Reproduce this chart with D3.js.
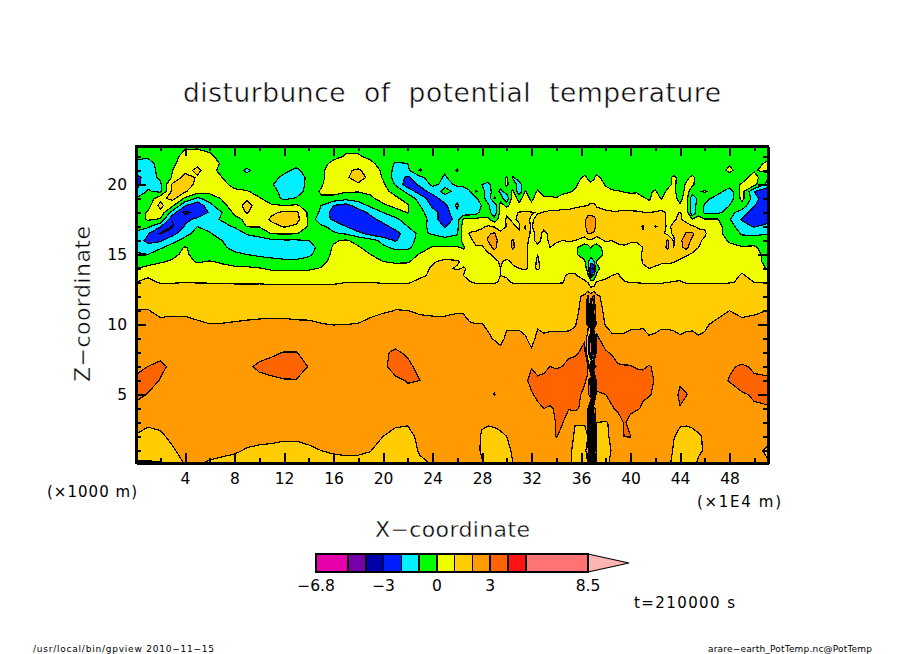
<!DOCTYPE html>
<html>
<head>
<meta charset="utf-8">
<script src="https://cdn.jsdelivr.net/npm/d3@7"></script>
<style>
body { margin: 0; background: #ffffff; }
text { font-family: "DejaVu Sans"; fill: #000000; }
.ax path, .ax line { stroke: #000000; stroke-width: 2; shape-rendering: crispEdges; }
</style>
</head>
<body>
<svg id="chart" width="904" height="654"></svg>
<script>

var xCoord = [0,1,2,3,4,5,6,7,8,9,10,11,12,13,14,15,16,17,18,19,20,21,22,23,24,25,26,
	26.5,27,27.5,28,28.5,29,29.5,30,30.5,31,
	31.5,32,32.5,33,33.5,34,34.5,35,35.5,36.3,
	36.55,36.8,37.05,37.25,38,38.5,39,39.5,40,40.5,
	41,41.5,42,42.5,43,43.5,44,44.5,45,45.5,
	46,47,48,49,50,51];

var zCoord = [22.75,22,21.5,21,20.5,20,19.5,19,18.5,18,17.5,17,16.5,16,15.5,15,14.5,14,13.5,13,12.5,12,11,10,9,8,7,6,5,4,3,2,1,0.1];

var levels = [-6.8,-5,-4,-3,-2,-1,0,1,2,3,4,5,8.5];
var levelColors = ["#e600aa","#7800aa","#0000aa","#001eff","#00f0ff","#00ff00","#f0ff00","#ffcd00","#ff9b00","#ff6400","#ff1414","#ff7373","#ffb4b4"];
var xTicks = [4,8,12,16,20,24,28,32,36,40,44,48];
var xMinor = [2,6,10,14,18,22,26,30,34,38,42,46,50];
var zTicks = [5,10,15,20];
var zMinor = [1,2,3,4,6,7,8,9,11,12,13,14,16,17,18,19,21,22];
var legendTicks = [[-6.8,"\u22126.8"],[-3,"\u22123"],[0,"0"],[3,"3"],[8.5,"8.5"]];

// x 0..26
var thetaLeft = [
[-.5,-.5,-.5,-.5,-.2,-.2,-.5,-.5,-.5,-.5,-.5,-.5,-.5,-.5,-.5,-.5,-.5,-.3,-.3,-.5,-.5,-.5,-.5,-.5,-.5,-.5,-.5],
[-.7,-.9,-.6,-.4,.4,.5,.3,-.5,-.6,-.6,-.6,-.6,-.6,-.6,-.6,-.6,-.3,.1,.1,-.2,-.5,-.6,-.6,-.6,-.6,-.6,-.6],
[-1.3,-1.3,-.7,-.2,.5,.8,.7,-.2,-.7,-.8,-.7,-.7,-.8,-.7,-.6,-.4,.3,.7,.7,.2,-.4,-1.1,-1,-.3,-.7,-.4,-.4],
[-1.6,-1.5,-.7,0,.7,1.2,.5,-.4,-.7,-1.1,-.7,-.7,-.8,-1.2,-.6,-.2,.5,.9,1.1,.7,-.2,-1.3,-1.2,.1,-.7,-.9,.1],
[-2.4,-1.5,-.8,.1,1.4,.9,.5,0,-.4,-.8,-.7,-.7,-1.2,-1.7,-.7,-.2,.5,.9,1.3,.8,-.1,-1.4,-2.2,-1.2,-.6,-1.1,-.5],
[-2.5,-1.2,-1.2,1.2,1.4,.8,.4,.3,-.3,-.6,-.7,-.9,-1.6,-1.8,-.6,-.1,.6,.8,.9,.6,.2,-1.1,-2.6,-1.8,-.8,-1.2,-.9],
[-1.9,-.9,-1.2,1.3,1.1,.4,.3,.3,.2,.1,-.4,-.6,-1.4,-1.6,-.5,.1,.4,.1,.05,.2,.3,-.3,-1.3,-2.5,-1.6,-.7,-1.3],
[-1,-.7,.7,1.3,-.2,-1.2,-.6,.1,.4,.9,.1,-.5,-1.2,-.9,-.1,-.1,-.4,-.7,-.6,-.2,.4,.2,-.4,-1.4,-2.6,-1.4,-1.3],
[-.6,-.4,1.3,.2,-1.9,-2.8,-1.3,-.3,.5,1.3,.6,.1,0,.1,-.3,-1,-2,-2.4,-1.5,-.8,-.2,.3,.1,-1,-2.2,-2.3,-.8],
[-.4,.1,.7,-1.5,-3.3,-2.6,-1.9,-1,.2,1.1,.4,.8,1.2,1.2,-.2,-1.2,-2.4,-2.9,-2.6,-1.7,-1,-.5,.05,-.7,-1.6,-2.5,-1.2],
[-.4,.1,-.1,-2.9,-2.2,-1.8,-1.3,-.9,-.3,.2,.3,1.2,1.6,1.4,-.2,-1.7,-2.1,-3,-2.8,-2.4,-1.6,-1.2,-.6,-.6,-1.3,-2.9,-1.4],
[-.8,-.8,-1.9,-3.1,-1.9,-1,-1.4,-1.3,-.9,.05,.05,.6,1.1,.8,-.1,-.8,-1.3,-2,-2.8,-2.9,-2.4,-1.6,-1,-.8,-1.2,-2.1,-1.3],
[-1.1,-1.9,-3.1,-2.4,-1.2,-.8,-.9,-1.6,-1.6,-.9,-.6,.05,.1,.05,-.3,-.6,-.9,-1.1,-1.7,-2.4,-2.8,-2.4,-1.4,-.8,-1.1,-1.5,-1.1],
[-1.3,-2.3,-2.2,-1.2,-.8,-.6,-.7,-1,-1.5,-1.5,-1.4,-1.2,-1.1,-1.1,-1,-.6,-.1,.1,-.3,-.6,-1.3,-2.1,-1.5,-.6,-.5,-.6,-.6],
[-1.2,-1.6,-1.1,-.7,.1,-.5,-.6,-.8,-1.3,-1.6,-1.7,-1.7,-1.7,-1.7,-1.5,-.6,.1,.4,.1,-.4,-.8,-1.2,-1.2,-.5,.1,.1,.1],
[-.9,-1,-.6,-.2,.2,-.4,-.5,-.6,-.8,-1,-1.2,-1.4,-1.6,-1.7,-1.2,-.5,.2,.5,.4,0,-.5,-.6,-.5,.1,.5,.5,.5],
[-.4,-.3,-.1,.1,.3,-.1,.05,-.1,-.2,-.3,-.5,-.6,-.7,-.7,-.6,-.3,.3,.6,.5,.2,0,-.1,-.1,.4,.9,1.2,1.1],
[0,.2,.4,.6,.6,.4,.3,.2,.1,.1,.05,-.1,-.1,-.1,-.1,.05,.5,.7,.7,.6,.4,.3,.4,.7,1.1,1.2,.9],
[.5,.9,.9,.8,.8,.7,.6,.5,.4,.4,.3,.3,.3,.3,.3,.4,.6,.7,.8,.8,.7,.6,.7,.8,1.2,1.3,1.4],
[1,1.2,.95,.95,1,.97,.96,.95,.9,.9,.9,.85,.85,.85,.8,.85,.85,1,1,1,.95,.95,.9,1.3,1.4,1.4,1.4],
[1.4,1.4,1.4,1.4,1.4,1.4,1.4,1.4,1.4,1.4,1.4,1.4,1.4,1.4,1.4,1.4,1.4,1.4,1.4,1.4,1.4,1.4,1.4,1.4,1.4,1.4,1.4],
[1.7,1.7,1.7,1.7,1.7,1.7,1.7,1.7,1.7,1.7,1.7,1.7,1.7,1.7,1.7,1.7,1.7,1.7,1.7,1.7,1.7,1.7,1.7,1.7,1.7,1.7,1.7],
[2.03,2.03,1.8,1.8,1.8,1.8,1.8,1.8,1.8,1.8,1.8,1.8,1.8,1.8,1.8,1.8,1.8,1.8,1.8,1.8,1.8,2.02,2,1.8,1.8,1.8,1.8],
[2.3,2.3,2.2,2.3,2.3,2.09,2.01,2.02,2.05,2.09,2.13,2.16,2.16,2.1,2.09,2.02,1.99,2,2.02,2.2,2.8,2.5,2.4,2.47,2.3,2.3,2.8],
[2.4,2.4,2.4,2.4,2.4,2.4,2.4,2.4,2.4,2.4,2.4,2.4,2.5,2.5,2.4,2.4,2.3,2.3,2.4,2.4,2.6,2.7,2.6,2.4,2.4,2.4,2.6],
[2.6,2.7,2.7,2.6,2.5,2.5,2.5,2.6,2.6,2.7,2.8,2.9,3.02,3.02,2.8,2.6,2.5,2.5,2.6,2.7,2.9,3.1,2.9,2.6,2.5,2.5,2.5],
[2.7,3,3.2,2.8,2.6,2.6,2.6,2.7,2.8,2.9,3.1,3.2,3.4,3.5,2.95,2.7,2.6,2.6,2.7,2.8,2.85,3.3,3.15,2.8,2.6,2.6,2.6],
[3.2,3.4,2.95,2.7,2.6,2.6,2.6,2.7,2.7,2.8,2.85,2.9,2.95,2.95,2.85,2.7,2.6,2.6,2.7,2.75,2.8,2.85,3.05,3,2.7,2.6,2.6],
[3.3,2.95,2.7,2.6,2.5,2.5,2.5,2.6,2.6,2.6,2.6,2.6,2.6,2.6,2.6,2.6,2.5,2.5,2.6,2.6,2.6,2.7,2.8,2.95,2.7,2.5,2.5],
[2.7,2.6,2.4,2.4,2.4,2.4,2.4,2.4,2.4,2.4,2.4,2.4,2.4,2.4,2.4,2.4,2.4,2.4,2.4,2.4,2.4,2.4,2.5,2.5,2.4,2.4,2.4],
[2.3,2.1,2.2,2.3,2.3,2.3,2.3,2.3,2.3,2.3,2.3,2.3,2.3,2.3,2.3,2.3,2.3,2.3,2.3,2.3,2.3,2.12,2.08,2.3,2.3,2.3,2.3],
[1.95,1.8,1.85,2.2,2.4,2.4,2.3,2.3,2.3,2.2,2.15,2.15,2.1,2.1,2.15,2.3,2.3,2.3,2.3,2.3,2,1.8,1.75,2.2,2.4,2.4,2.4],
[1.5,1.5,1.6,1.9,2.3,2.3,2.15,2.1,2.08,1.95,1.9,1.85,1.8,1.8,1.9,2,2.08,2.1,2.09,2.02,1.7,1.6,1.6,2.1,2.3,2.3,2.3],
[.9,.9,.9,1.6,2.05,2.05,1.95,1.9,1.8,1.7,1.6,1.6,1.6,1.6,1.6,1.7,1.8,1.85,1.85,1.8,1.6,1.5,1.5,1.85,2.05,2.05,2.05]
];

// x 26.5..51
var thetaRight = [
[-.5,-.5,-.5,-.5,-.5,-.5,-.5,-.5,-.5,-.5, -.5,-.5,-.5,-.5,-.5,-.5,-.5,-.5,-.5,-.5, -.5,-.5,-.5,-.5,-.5,-.5,-.5,-.5,-.5,-.5, -.5,-.5,-.5,-.5,-.5,-.5,-.5,-.5,-.5,-.5, -.5,-.5,-.5,-.5,-.5,-.5],
[-.5,-.5,-.5,-.5,-.5,-.5,-.5,-.5,-.5,-.5, -.5,-.5,-.5,-.5,-.5,-.5,-.5,-.5,-.5,-.5, -.5,-.5,-.5,-.5,-.5,-.5,-.5,-.5,-.5,-.5, -.5,-.5,-.5,-.5,-.5,-.5,-.5,-.5,-.5,-.5, -.5,-.5,-.5,-.5,-.5,-.5],
[-.5,-.5,-.5,-.5,-.5,-.5,-.5,-.5,-.5,-.5, -.5,-.5,-.5,-.5,-.5,-.5,-.5,-.5,-.5,-.5, -.5,-.5,-.5,-.5,-.5,-.5,-.5,-.5,-.5,-.5, -.5,-.5,-.5,-.5,-.5,-.5,-.5,-.5,-.5,-.5, -.5,-.5,-.1,-.5,-.5,.2],
[-.5,-.5,-.5,-.5,-.5,-.5,-.5,-.5,-.5,-.5, -.5,-.5,-.5,-.5,-.5,-.5,-.5,-.5,-.5,-.5, -.5,-.5,-.5,-.5,-.5,-.5,-.5,-.5,-.5,-.5, -.5,-.5,-.5,-.5,-.5,-.5,-.5,-.5,-.5,-.5, -.5,-.5,.2,-.5,-.1,.3],
[-.5,-.5,-.5,-.7,-.6,-.4,-.3,.05,-1.1,-.6, -.5,-.4,-.4,-.4,-.4,-.4,-.4,-.4,-.4,.2, -.1,-.2,-.1,.3,-.4,-.5,-.5,-.5,-.5,-.5, -.5,-.5,-.5,-.5,-.3,.2,-.3,-.2,.2,-.4, -.5,-.5,-.5,-.4,.4,-.8],
[-.6,-.5,-.5,-1,-1.2,-.5,-.7,.2,-.6,-1.3, -.5,-.3,-.4,-.4,-.3,-.3,-.3,-.3,-.2,.5, .3,.1,.3,.6,-.1,-.3,-.4,-.4,-.4,-.4, -.5,-.5,-.4,-.4,-.3,.2,-.4,.1,.1,-.3, -.5,-.5,-.5,.1,.3,-1.2],
[-1.8,-1.1,.1,-.5,-1.7,-.3,-1.2,-.6,.2,-1.7, .05,-.4,.1,-.3,-.3,-.3,-.2,-.1,.1,.7, .7,.6,.7,.8,.3,.1,.05,-.05,-.1,-.05, -.3,-.1,.1,-.4,.2,.2,-.5,.3,-.4,-.1, .1,-.5,-1.6,.4,-2,-2.8],
[-1.9,-1.8,-1.2,-.5,-1.6,.1,-.5,-1.7,.5,-.3, .4,-.2,.4,.1,.15,.05,.3,.5,.6,.8, .8,.8,.8,.9,.4,.3,.3,.4,.3,.2, .1,-.1,.3,-.05,.5,.3,-.3,.5,-1.8,-.6, -.6,-1.5,-1.7,.3,-1.5,-2.9],
[-1.9,-1.9,-1.8,-.9,-.8,-1.8,.5,-.3,.6,.2, .7,.2,.8,.6,.75,.7,.8,.8,.9,.95, 1,1.1,1.1,.95,.9,.8,.8,.8,.7,.6, .5,.3,.6,.5,.7,.5,.1,.6,-1.9,-.3, -1.1,-1.5,-1,-.4,-1.9,-3],
[-1.7,-1.7,-1.5,-.5,-.6,-1.7,.4,.9,.8,1.05, 1.05,1.05,.95,1.03,1.1,1.1,1.15,1.15,1.2,1.6, 1.8,1.7,1.6,1.2,1.05,1.05,1.05,1.1,1.1,1.1, 1.03,1,1.05,1.2,.9,.8,1.05,.7,-1.9,-.3, -1.2,-1.2,-.7,-1.4,-2.6,-3],
[.15,.3,.3,.2,.2,-.6,.5,1.1,.9,1.1, 1.2,.9,1.2,1.3,1.2,1.2,1.3,1.3,1.4,1.9, 2.2,2.4,2.3,1.9,1.3,1.2,1.2,1.2,1.2,1.2, 1.2,1.1,1.3,1.3,.8,.9,1.2,.6,.05,.3, .1,.1,-.9,-2.1,-2.9,-2.8],
[.5,.7,.8,.9,1.1,.9,.6,1.05,1.1,.9, 2.1,.8,2,1.2,1.2,1.2,1.3,1.4,1.6,1.9, 2.3,2.5,2.3,1.8,1.5,1.4,1.3,1.3,1.3,1.3, 2.1,1.3,2.1,1.6,.8,1.2,1.05,1.5,1.1,.9, .9,.4,-.6,-1.5,-2.1,-1.5],
[.5,1.05,1.1,1.2,1.9,2.1,1.2,1.05,1.1,1.1, 1.9,.7,1.3,.8,1.2,1.2,1.2,1.2,1.2,1.4, 2,2,1.9,1.3,1.1,1.1,1.1,1.2,1.2,1.2, 1.9,1.3,1.2,1.2,.8,1.1,1.3,2.1,2.2,1.2, 1.1,.3,-.4,-1.1,-1.3,-1.1],
[.3,.8,1.2,1.2,2.1,2.5,1.4,1.5,2.1,1.4, 1.2,.8,1.2,.8,1.1,1.1,1,1.1,1,.6, .8,.8,.7,.6,1.1,1,1.2,1.2,1.1,1.1, 1.2,1.1,1.1,1.3,2.1,.9,1.8,2.5,1.8,1.1, .9,.2,-.05,-.6,-.3,-.2],
[-.1,.5,.9,.9,1.3,2.4,1.2,1.3,2.2,1.2, 1.1,.8,.8,.8,1,.8,.7,.5,.2,-.6, -.5,.05,-.4,-.6,.5,.6,.8,.9,.8,.7, 1,1.2,1.1,1.5,2.2,1,1.7,2.3,1.3,1, .9,.05,.1,.1,.1,-.3],
[.3,.4,.6,.7,.9,1.1,1.1,1.2,1.4,1.2, 1.1,.8,1,.6,.5,.5,.3,.2,.1,-.3, -.7,-.6,-.7,-.4,.2,.4,.4,.4,.5,.7, 1.1,1.2,1.1,1.2,1.2,1.1,1.2,1.1,.9,.8, .6,.5,.5,.4,.4,-.3],
[.85,.7,.7,.7,.8,.9,1.05,.9,1.1,1.1, 1.2,.7,1.1,.6,.4,.4,.3,.3,.3,.1, -.8,-1.6,-1,.05,.2,.3,.4,.4,.4,.6, 1.05,1.1,1.1,1.05,1.1,1.05,.9,.7,.6,.5, .4,.4,.4,.3,.3,-.2],
[1.05,.9,.7,.6,.7,.8,1,.9,.9,1, 1.05,.9,1.05,.9,.6,.5,.5,.7,.9,.3, -.3,-3,-3.5,-.2,.4,.7,.9,.8,.7,.7, .9,1,.95,.9,.8,.7,.7,.8,.8,.7, .7,.6,.6,.9,.7,-.05],
[1,.8,.7,.7,.7,.8,1,.95,.8,.8, .8,.8,.8,.8,.7,.8,.9,1.1,1.05,.8, .3,-2,-.5,.1,.8,1,1.05,.8,.8,.7, .7,.7,.7,.7,.8,.85,.85,.7,.7,.7, .7,.7,.8,1.05,.85,.8],
[1.15,1.05,.95,.95,.9,.95,1.05,1.1,.95,.9, .95,.95,.9,.95,.95,.95,.97,1.2,1.2,1.1, 1,.6,.3,1.1,1.2,1.1,1.1,1.05,.98,.98, .95,.95,.95,.95,1,1.03,1.05,.95,.95,.95, .95,.9,.97,1.05,1,1],
[1.4,1.4,1.4,1.4,1.4,1.4,1.4,1.4,1.4,1.4, 1.4,1.4,1.4,1.4,1.4,1.4,1.4,1.4,1.4,1.5, 1.6,1.2,1.6,1.5,1.4,1.4,1.4,1.4,1.4,1.4, 1.4,1.4,1.4,1.4,1.4,1.4,1.4,1.4,1.4,1.4, 1.4,1.4,1.4,1.4,1.4,1.4],
[1.7,1.7,1.7,1.7,1.7,1.7,1.7,1.7,1.7,1.7, 1.7,1.7,1.7,1.7,1.7,1.7,1.7,1.7,1.7,2.2, 3.2,2.5,3.3,2.2,1.7,1.7,1.7,1.7,1.7,1.7, 1.7,1.7,1.7,1.7,1.7,1.7,1.7,1.7,1.7,1.7, 1.7,1.7,1.7,1.7,1.7,1.7],
[1.8,1.8,1.8,1.8,1.8,1.8,1.8,1.8,1.8,1.8, 1.8,1.8,1.8,1.8,1.8,1.8,1.8,1.8,1.8,2.3, 3.3,-1,3.5,2.4,1.8,1.8,1.8,1.8,1.8,1.8, 1.8,1.8,1.8,1.8,1.8,1.8,1.8,1.8,1.8,1.8, 1.8,1.8,1.99,1.8,1.8,2],
[2.6,2.05,2.01,2.01,1.95,1.8,1.8,1.95,1.95,1.95, 1.9,1.8,1.96,1.92,1.93,1.93,1.93,1.94,1.95,2.4, 3.2,-3,5.5,2.6,1.94,1.92,1.92,1.92,1.95,1.95, 1.96,1.9,1.92,1.96,1.96,1.94,1.92,1.93,1.94,1.9, 1.93,2.13,2.8,2.2,2.4,2.9],
[2.6,2.4,2.4,2.4,2.05,1.97,1.9,2.07,2.07,2.07, 2.03,1.9,2.08,2.05,2.07,2.07,2.07,2.07,2.2,2.9, 1,6.8,-3,3.2,2.5,2.05,2.05,2.05,2.08,2.08, 2.1,2.03,2.05,2.08,2.08,2.07,2.03,2.07,2.07,2.03, 2.07,2.4,2.4,2.4,2.4,2.4],
[2.5,2.5,2.5,2.4,2.3,2.2,2.1,2.3,2.3,2.3, 2.3,2.05,2.3,2.4,2.4,2.5,2.6,2.7,2.8,3.3, 1,7,-4,3.4,3.1,2.9,2.6,2.6,2.5,2.5, 2.5,2.3,2.4,2.4,2.4,2.4,2.4,2.4,2.4,2.4, 2.4,2.5,2.5,2.5,2.5,2.5],
[2.6,2.6,2.6,2.6,2.6,2.6,2.6,2.5,2.5,2.6, 2.9,2.95,2.9,2.9,3,2.9,3,3.4,3.5,3.5, 3.2,-2,6,3.5,3.5,3.4,3.1,3.05,3.05,2.9, 2.9,3.05,2.9,2.6,2.6,2.6,2.6,2.6,2.6,2.5, 2.5,2.6,2.9,3.1,2.9,2.8],
[2.6,2.6,2.6,2.5,2.5,2.6,2.6,2.5,2.5,2.6, 2.8,3.3,3.05,3.1,3.4,3.5,3.6,3.6,3.7,3.1, 2.8,4.5,-3,3.3,3.7,3.8,3.6,3.6,3.6,3.5, 3.3,3.3,2.9,2.8,2.6,2.6,2.85,2.7,2.6,2.5, 2.5,2.6,3.05,3.4,3.1,3.1],
[2.5,2.5,2.5,2.5,2.6,3.05,2.6,2.5,2.5,2.5, 2.6,2.9,3.2,3.3,3.4,3.5,3.5,3.4,3.3,2.8, 2.5,4.3,-2,2.9,3,3.3,3.5,3.5,3.3,3.2, 3.1,3.05,2.9,2.6,2.5,2.6,3.2,3.05,2.6,2.5, 2.5,2.5,2.6,2.9,3.1,3.4],
[2.4,2.4,2.4,2.4,2.4,2.4,2.4,2.4,2.4,2.4, 2.5,2.6,2.8,3,2.9,3.1,3.3,3.05,3.2,2.7, 2.3,-2,3.5,2.5,2.6,2.9,3.2,3.4,3.2,3.1, 2.9,2.7,2.5,2.4,2.4,2.4,2.95,2.6,2.4,2.4, 2.4,2.4,2.4,2.5,2.9,2.85],
[2.3,2.3,2.3,2.1,2.05,2.08,2.15,2.2,2.3,2.3, 2.3,2.4,2.5,2.6,2.6,3.05,3.05,2.4,2.05,2.05, 2.4,-3,5,2,1.95,2.1,2.5,3.1,2.7,2.4, 2.4,2.3,2.3,2.3,2.3,2.1,2.05,2.05,2.1,2.15, 2.3,2.3,2.3,2.3,2.3,2.3],
[2.3,2.3,2.3,1.9,1.85,1.85,1.9,2,2.15,2.3, 2.4,2.4,2.4,2.4,2.5,3.05,2.7,2.6,1.85,1.8, 2,-1,4,1.8,1.8,2.2,2.5,3.02,3.03,2.4, 2.3,2.3,2.3,2.3,2.3,2.02,1.9,1.85,1.85,1.95, 2.05,2.3,2.3,2.3,2.3,2.3],
[2.2,2.2,2.2,1.9,1.8,1.8,1.8,1.9,2.05,2.2, 2.2,2.2,2.2,2.2,2.2,2.2,2.2,2.2,1.8,1.7, 2.5,-1.5,4,1.7,1.7,2.05,2.2,2.2,2.2,2.2, 2.2,2.2,2.2,2.2,2.2,1.95,1.8,1.8,1.85,1.95, 2.03,2.2,2.2,2.2,2.2,1.9],
[2.1,2.1,2.1,2.05,1.9,1.9,1.9,1.95,2,2.1, 2.1,2.1,2.1,2.1,2.1,2.1,2.1,2.1,1.9,1.8, 2,-1,3,1.8,1.9,2.1,2.1,2.1,2.1,2.1, 2.1,2.1,2.1,2.1,2.1,1.9,1.9,1.9,1.9,2.05, 2.1,2.1,2.1,2.1,2.1,2.1]
];

////////////////////////////////////////////////////////////

var svg = d3.select("#chart");

var xScale = d3.scaleLinear().domain([4, 48]).range([185, 729.5]);
var zScale = d3.scaleLinear().domain([5, 20]).range([394.5, 184.5]);
var plotL = 136, plotR = 768, plotT = 146, plotB = 463;

// grid index -> pixel, the grid is not evenly spaced
var xPos = d3.scaleLinear().domain(xCoord.map(function(d, i) { return i + 0.5; })).range(xCoord.map(xScale));
var zPos = d3.scaleLinear().domain(zCoord.map(function(d, i) { return i + 0.5; })).range(zCoord.map(zScale));

var values = [];
thetaLeft.forEach(function(r, i) { values = values.concat(r, thetaRight[i]); });

var contours = d3.contours().size([xCoord.length, zCoord.length]).thresholds(levels)(values);

var path = d3.geoPath(d3.geoTransform({
	point: function(x, y) { this.stream.point(xPos(x), zPos(y)); }
}));

svg.append("clipPath").attr("id", "plot")
	.append("rect")
	.attr("x", plotL).attr("y", plotT)
	.attr("width", plotR - plotL).attr("height", plotB - plotT);

svg.append("g")
	.attr("clip-path", "url(#plot)")
	.selectAll("path")
	.data(contours)
	.enter()
	.append("path")
	.attr("d", path)
	.attr("fill", function(d, i) { return levelColors[i]; })
	.attr("stroke", "#000000")
	.attr("stroke-width", 1.2)
	.attr("shape-rendering", "crispEdges");

////////////////////////////////////////////////////////////
// axes, all ticks point inward

var xDom = d3.scaleLinear().domain([xScale.invert(plotL), xScale.invert(plotR)]).range([plotL, plotR]);
var zDom = d3.scaleLinear().domain([zScale.invert(plotB), zScale.invert(plotT)]).range([plotB, plotT]);

function blank() { return ""; }

svg.append("g").attr("class", "ax").attr("transform", "translate(0," + plotB + ")")
	.call(d3.axisBottom(xDom).tickValues(xTicks).tickSize(-10).tickSizeOuter(0).tickPadding(10))
	.selectAll("text").attr("font-size", 15.5).style("font-family", "DejaVu Sans");
svg.append("g").attr("class", "ax").attr("transform", "translate(0," + plotB + ")")
	.call(d3.axisBottom(xDom).tickValues(xMinor).tickSize(-5).tickSizeOuter(0).tickFormat(blank));
svg.append("g").attr("class", "ax").attr("transform", "translate(0," + plotT + ")")
	.call(d3.axisTop(xDom).tickValues(xTicks).tickSize(-10).tickSizeOuter(0).tickFormat(blank));
svg.append("g").attr("class", "ax").attr("transform", "translate(0," + plotT + ")")
	.call(d3.axisTop(xDom).tickValues(xMinor).tickSize(-5).tickSizeOuter(0).tickFormat(blank));
svg.append("g").attr("class", "ax").attr("transform", "translate(" + plotL + ",0)")
	.call(d3.axisLeft(zDom).tickValues(zTicks).tickSize(-10).tickSizeOuter(0).tickPadding(9))
	.selectAll("text").attr("font-size", 15.5).style("font-family", "DejaVu Sans");
svg.append("g").attr("class", "ax").attr("transform", "translate(" + plotL + ",0)")
	.call(d3.axisLeft(zDom).tickValues(zMinor).tickSize(-5).tickSizeOuter(0).tickFormat(blank));
svg.append("g").attr("class", "ax").attr("transform", "translate(" + plotR + ",0)")
	.call(d3.axisRight(zDom).tickValues(zTicks).tickSize(-10).tickSizeOuter(0).tickFormat(blank));
svg.append("g").attr("class", "ax").attr("transform", "translate(" + plotR + ",0)")
	.call(d3.axisRight(zDom).tickValues(zMinor).tickSize(-5).tickSizeOuter(0).tickFormat(blank));

svg.append("rect")
	.attr("x", plotL).attr("y", plotT)
	.attr("width", plotR - plotL).attr("height", plotB - plotT)
	.attr("fill", "none").attr("stroke", "#000000").attr("stroke-width", 2.5)
	.attr("shape-rendering", "crispEdges");

////////////////////////////////////////////////////////////
// colour bar

var legendX = d3.scaleLinear().domain([-6.8, 8.5]).range([316, 588]);
var legendTop = 554, legendBottom = 572;

svg.append("path")
	.attr("d", d3.line()([[legendX(8.5), legendTop], [629, (legendTop + legendBottom) / 2], [legendX(8.5), legendBottom]]))
	.attr("fill", levelColors[12])
	.attr("stroke", "#000000")
	.attr("stroke-width", 1.2);

svg.selectAll(".cell")
	.data(levels.slice(0, -1))
	.enter()
	.append("rect")
	.attr("class", "cell")
	.attr("x", function(d) { return legendX(d); })
	.attr("y", legendTop)
	.attr("width", function(d, i) { return legendX(levels[i + 1]) - legendX(d); })
	.attr("height", legendBottom - legendTop)
	.attr("fill", function(d, i) { return levelColors[i]; })
	.attr("stroke", "#000000")
	.attr("stroke-width", 1.5)
	.attr("shape-rendering", "crispEdges");

svg.selectAll(".ltick")
	.data(legendTicks)
	.enter()
	.append("text")
	.attr("class", "ltick")
	.attr("x", function(d) { return legendX(d[0]); })
	.attr("y", 591)
	.attr("text-anchor", "middle")
	.attr("font-size", 15.5)
	.text(function(d) { return d[1]; });

////////////////////////////////////////////////////////////
// labels

function label(txt, x, y, size, anchor, len) {
	var t = svg.append("text")
		.attr("x", x).attr("y", y)
		.attr("font-size", size)
		.attr("text-anchor", anchor)
		.text(txt);
	if (len) t.attr("textLength", len).attr("lengthAdjust", "spacing");
	return t;
}

// the reference letters are thin strokes, a white edge thins the big ones
label("disturbunce of potential temperature", 452, 102, 26.5, "middle", 538)
	.attr("word-spacing", 9).attr("stroke", "#ffffff").attr("stroke-width", 0.5);
label("(\u00d71000 m)", 47, 497, 15, "start", 90);
label("(\u00d71E4 m)", 697, 507, 15, "start", 84);
label("X\u2212coordinate", 452.5, 537, 22, "middle", 155)
	.attr("stroke", "#ffffff").attr("stroke-width", 0.4);
label("t=210000 s", 634, 608, 15, "start", 101);
label("/usr/local/bin/gpview   2010\u221211\u221215", 33, 652, 9, "start", 181);
label("arare\u2212earth_PotTemp.nc@PotTemp", 708, 652, 9, "start", 164);

svg.append("text")
	.attr("transform", "translate(90,304) rotate(-90)")
	.attr("font-size", 22)
	.attr("text-anchor", "middle")
	.attr("textLength", 156)
	.attr("stroke", "#ffffff")
	.attr("stroke-width", 0.4)
	.text("Z\u2212coordinate");

</script>
</body>
</html>
